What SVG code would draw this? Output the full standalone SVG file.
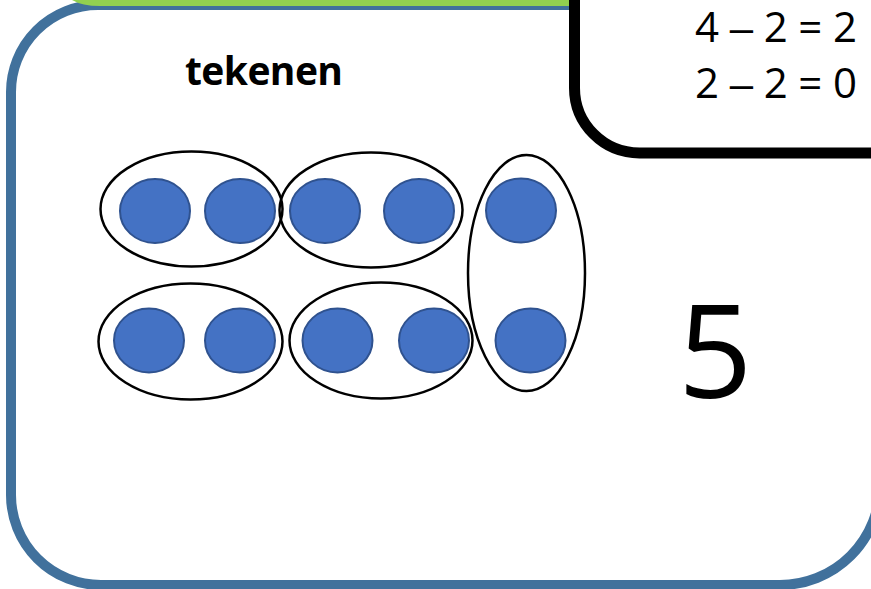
<svg xmlns="http://www.w3.org/2000/svg" width="871" height="589" viewBox="0 0 871 589">
<style>
.dot{fill:#4472C4;stroke:#2F528F;stroke-width:2}
.grp{fill:none;stroke:#000;stroke-width:2.5}
.txt{font-family:"Open Sans","Liberation Sans",sans-serif;fill:#000}
.dash{font-family:"Liberation Sans",sans-serif}
</style>
<rect width="871" height="589" fill="#fff"/>
<g id="panel">
<path d="M880,-10 L880,485 A100,100 0 0 1 780,585 L101,585 A90,90 0 0 1 11,495 L11,92 A87,87 0 0 1 98,5 L600,5" fill="none" stroke="#41719C" stroke-width="10"/>
</g>
<g id="green-bar">
<path d="M72,0 Q82,6 100,6 L575,6 L575,0 Z" fill="#92D050"/>
</g>
<g id="answer-box">
<path d="M574.5,-20 L574.5,88 A65,65 0 0 0 639.5,153 L900,153" fill="#fff" stroke="#000" stroke-width="11"/>
<text class="txt" x="695" y="42" font-size="42" textLength="162">4 <tspan class="dash">–</tspan> 2 = 2</text>
<text class="txt" x="695" y="98" font-size="42" textLength="162">2 <tspan class="dash">–</tspan> 2 = 0</text>
</g>
<g id="label">
<text class="txt" x="185" y="85" font-size="39" font-weight="bold" textLength="158">tekenen</text>
</g>
<g id="group1">
<ellipse class="grp" cx="191.5" cy="209" rx="91" ry="57.5"/>
<ellipse class="dot" cx="155" cy="211" rx="35" ry="32"/>
<ellipse class="dot" cx="240" cy="211" rx="35" ry="32"/>
</g>
<g id="group2">
<ellipse class="grp" cx="371" cy="210" rx="91.5" ry="57.5"/>
<ellipse class="dot" cx="325" cy="211" rx="35" ry="32"/>
<ellipse class="dot" cx="419" cy="211" rx="35" ry="32"/>
</g>
<g id="group3">
<ellipse class="grp" cx="190.5" cy="341.5" rx="92" ry="58"/>
<ellipse class="dot" cx="149" cy="340.5" rx="35" ry="32"/>
<ellipse class="dot" cx="240" cy="340.5" rx="35" ry="32"/>
</g>
<g id="group4">
<ellipse class="grp" cx="381" cy="340.5" rx="91.5" ry="58"/>
<ellipse class="dot" cx="337.5" cy="340.5" rx="35" ry="32"/>
<ellipse class="dot" cx="434" cy="340.5" rx="35" ry="32"/>
</g>
<g id="group5">
<ellipse class="grp" cx="526.5" cy="273" rx="58.5" ry="118"/>
<ellipse class="dot" cx="521" cy="210.5" rx="35" ry="32"/>
<ellipse class="dot" cx="530.5" cy="340.5" rx="35" ry="32"/>
</g>
<g id="total">
<text class="txt" x="678" y="398" font-size="130">5</text>
</g>
</svg>
